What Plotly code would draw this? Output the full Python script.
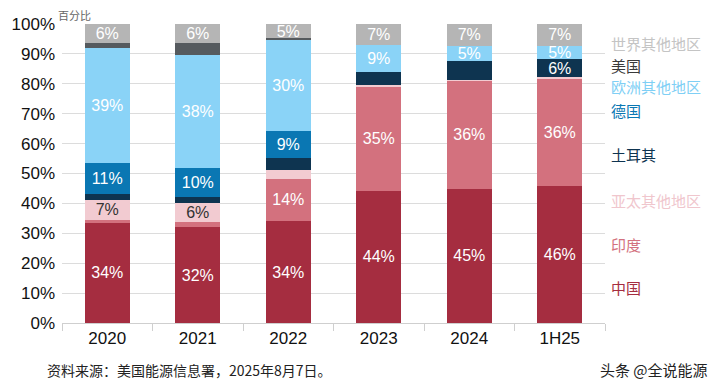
import plotly.graph_objects as go

categories = ["2020", "2021", "2022", "2023", "2024", "1H25"]

china   = [33.5, 32.0, 34.1, 44.2, 44.9, 45.8]
india   = [1.1, 1.8, 14.1, 35.0, 36.2, 36.1]
apac    = [6.5, 6.2, 3.0, 0.3, 0.2, 0.3]
turkey  = [1.9, 2.2, 4.1, 4.5, 6.4, 6.0]
germany = [10.4, 9.5, 9.0, 0.0, 0.0, 0.0]
europe  = [38.6, 38.0, 30.2, 8.9, 5.1, 4.5]
us      = [1.6, 3.9, 0.8, 0.0, 0.0, 0.0]
world   = [6.4, 6.4, 4.7, 7.1, 7.2, 7.3]

china_lbl   = ["34%", "32%", "34%", "44%", "45%", "46%"]
india_lbl   = ["", "", "14%", "35%", "36%", "36%"]
apac_lbl    = ["7%", "6%", "", "", "", ""]
turkey_lbl  = ["", "", "", "", "", "6%"]
germany_lbl = ["11%", "10%", "9%", "", "", ""]
europe_lbl  = ["39%", "38%", "30%", "9%", "5%", "5%"]
us_lbl      = ["", "", "", "", "", ""]
world_lbl   = ["6%", "6%", "5%", "7%", "7%", "7%"]

series_names = ["中国", "印度", "亚太其他地区", "土耳其", "德国", "欧洲其他地区", "美国", "世界其他地区"]
series_vals = [china, india, apac, turkey, germany, europe, us, world]
series_lbls = [china_lbl, india_lbl, apac_lbl, turkey_lbl, germany_lbl, europe_lbl, us_lbl, world_lbl]
bar_colors = ["#a52d40", "#d3717e", "#f2cbd1", "#0e3450", "#0a77b3", "#8ad3f7", "#555a5e", "#b5b5b5"]
text_colors = ["white", "white", "#333333", "white", "white", "white", "white", "white"]
legend_colors = ["#a52d40", "#d3717e", "#f0c6cd", "#0e3450", "#0a77b3", "#7fcff5", "#3a3a3a", "#c4c4c4"]
legend_ypix = [287, 244, 200, 155, 111, 87, 66, 44]

# page body has an 8px offset in the browser window
OFF = 8
W, H = 720 - OFF, 380 - OFF
L, R, T, B = 62 - OFF, 114.75, 24.3 - OFF, 57.3
pw, ph = W - L - R, H - T - B

def px(x):
    return (x - OFF - L) / pw

def py(y):
    return (H - B - (y - OFF)) / ph

fig = go.Figure()
for name, vals, lbls, c, tc in zip(series_names, series_vals, series_lbls, bar_colors, text_colors):
    fig.add_trace(go.Bar(
        x=categories, y=vals, name=name, text=lbls,
        texttemplate="%{text}", textposition="inside", insidetextanchor="middle",
        textangle=0, constraintext="none",
        textfont=dict(family="Arial, Liberation Sans", size=16, color=tc),
        marker=dict(color=c, line=dict(width=0)),
        hoverinfo="skip",
    ))

annotations = []
for name, c, yp in zip(series_names, legend_colors, legend_ypix):
    annotations.append(dict(
        text=name, xref="paper", yref="paper", x=px(609), y=py(yp),
        xanchor="left", yanchor="middle", showarrow=False,
        font=dict(family="Noto Sans CJK SC", size=15, color=c),
    ))
annotations.append(dict(text="百分比", xref="paper", yref="paper", x=px(56), y=py(15),
                        xanchor="left", yanchor="middle", showarrow=False,
                        font=dict(family="Noto Sans CJK SC", size=11, color="#666")))
annotations.append(dict(text="资料来源：美国能源信息署，2025年8月7日。", xref="paper", yref="paper",
                        x=px(45), y=py(370), xanchor="left", yanchor="middle", showarrow=False,
                        font=dict(family="Noto Sans CJK SC", size=14, color="#222")))
annotations.append(dict(text="头条 @全说能源", xref="paper", yref="paper",
                        x=px(598), y=py(369), xanchor="left", yanchor="middle", showarrow=False,
                        font=dict(family="Noto Sans CJK SC", size=15, color="#222")))

fig.update_layout(
    width=W, height=H,
    margin=dict(l=L, r=R, t=T, b=B, pad=0, autoexpand=False),
    barmode="stack", bargap=0.5,
    showlegend=False,
    plot_bgcolor="white", paper_bgcolor="white",
    uniformtext=dict(minsize=16, mode="show"),
    annotations=annotations,
    xaxis=dict(
        categoryorder="array", categoryarray=categories, automargin=False,
        showline=True, linecolor="#cfcfcf", linewidth=1,
        ticks="outside", tickson="boundaries", ticklen=7, tickcolor="#cfcfcf",
        tickfont=dict(family="Arial, Liberation Sans", size=17, color="#111"),
        showgrid=False,
    ),
    yaxis=dict(
        range=[0, 100], dtick=10, ticksuffix="%", automargin=False,
        showgrid=True, gridcolor="#dcdcdc", gridwidth=1,
        zeroline=False, ticks="", ticklabelstandoff=6,
        tickfont=dict(family="Arial, Liberation Sans", size=17, color="#111"),
    ),
)

fig.write_html("out.html")
